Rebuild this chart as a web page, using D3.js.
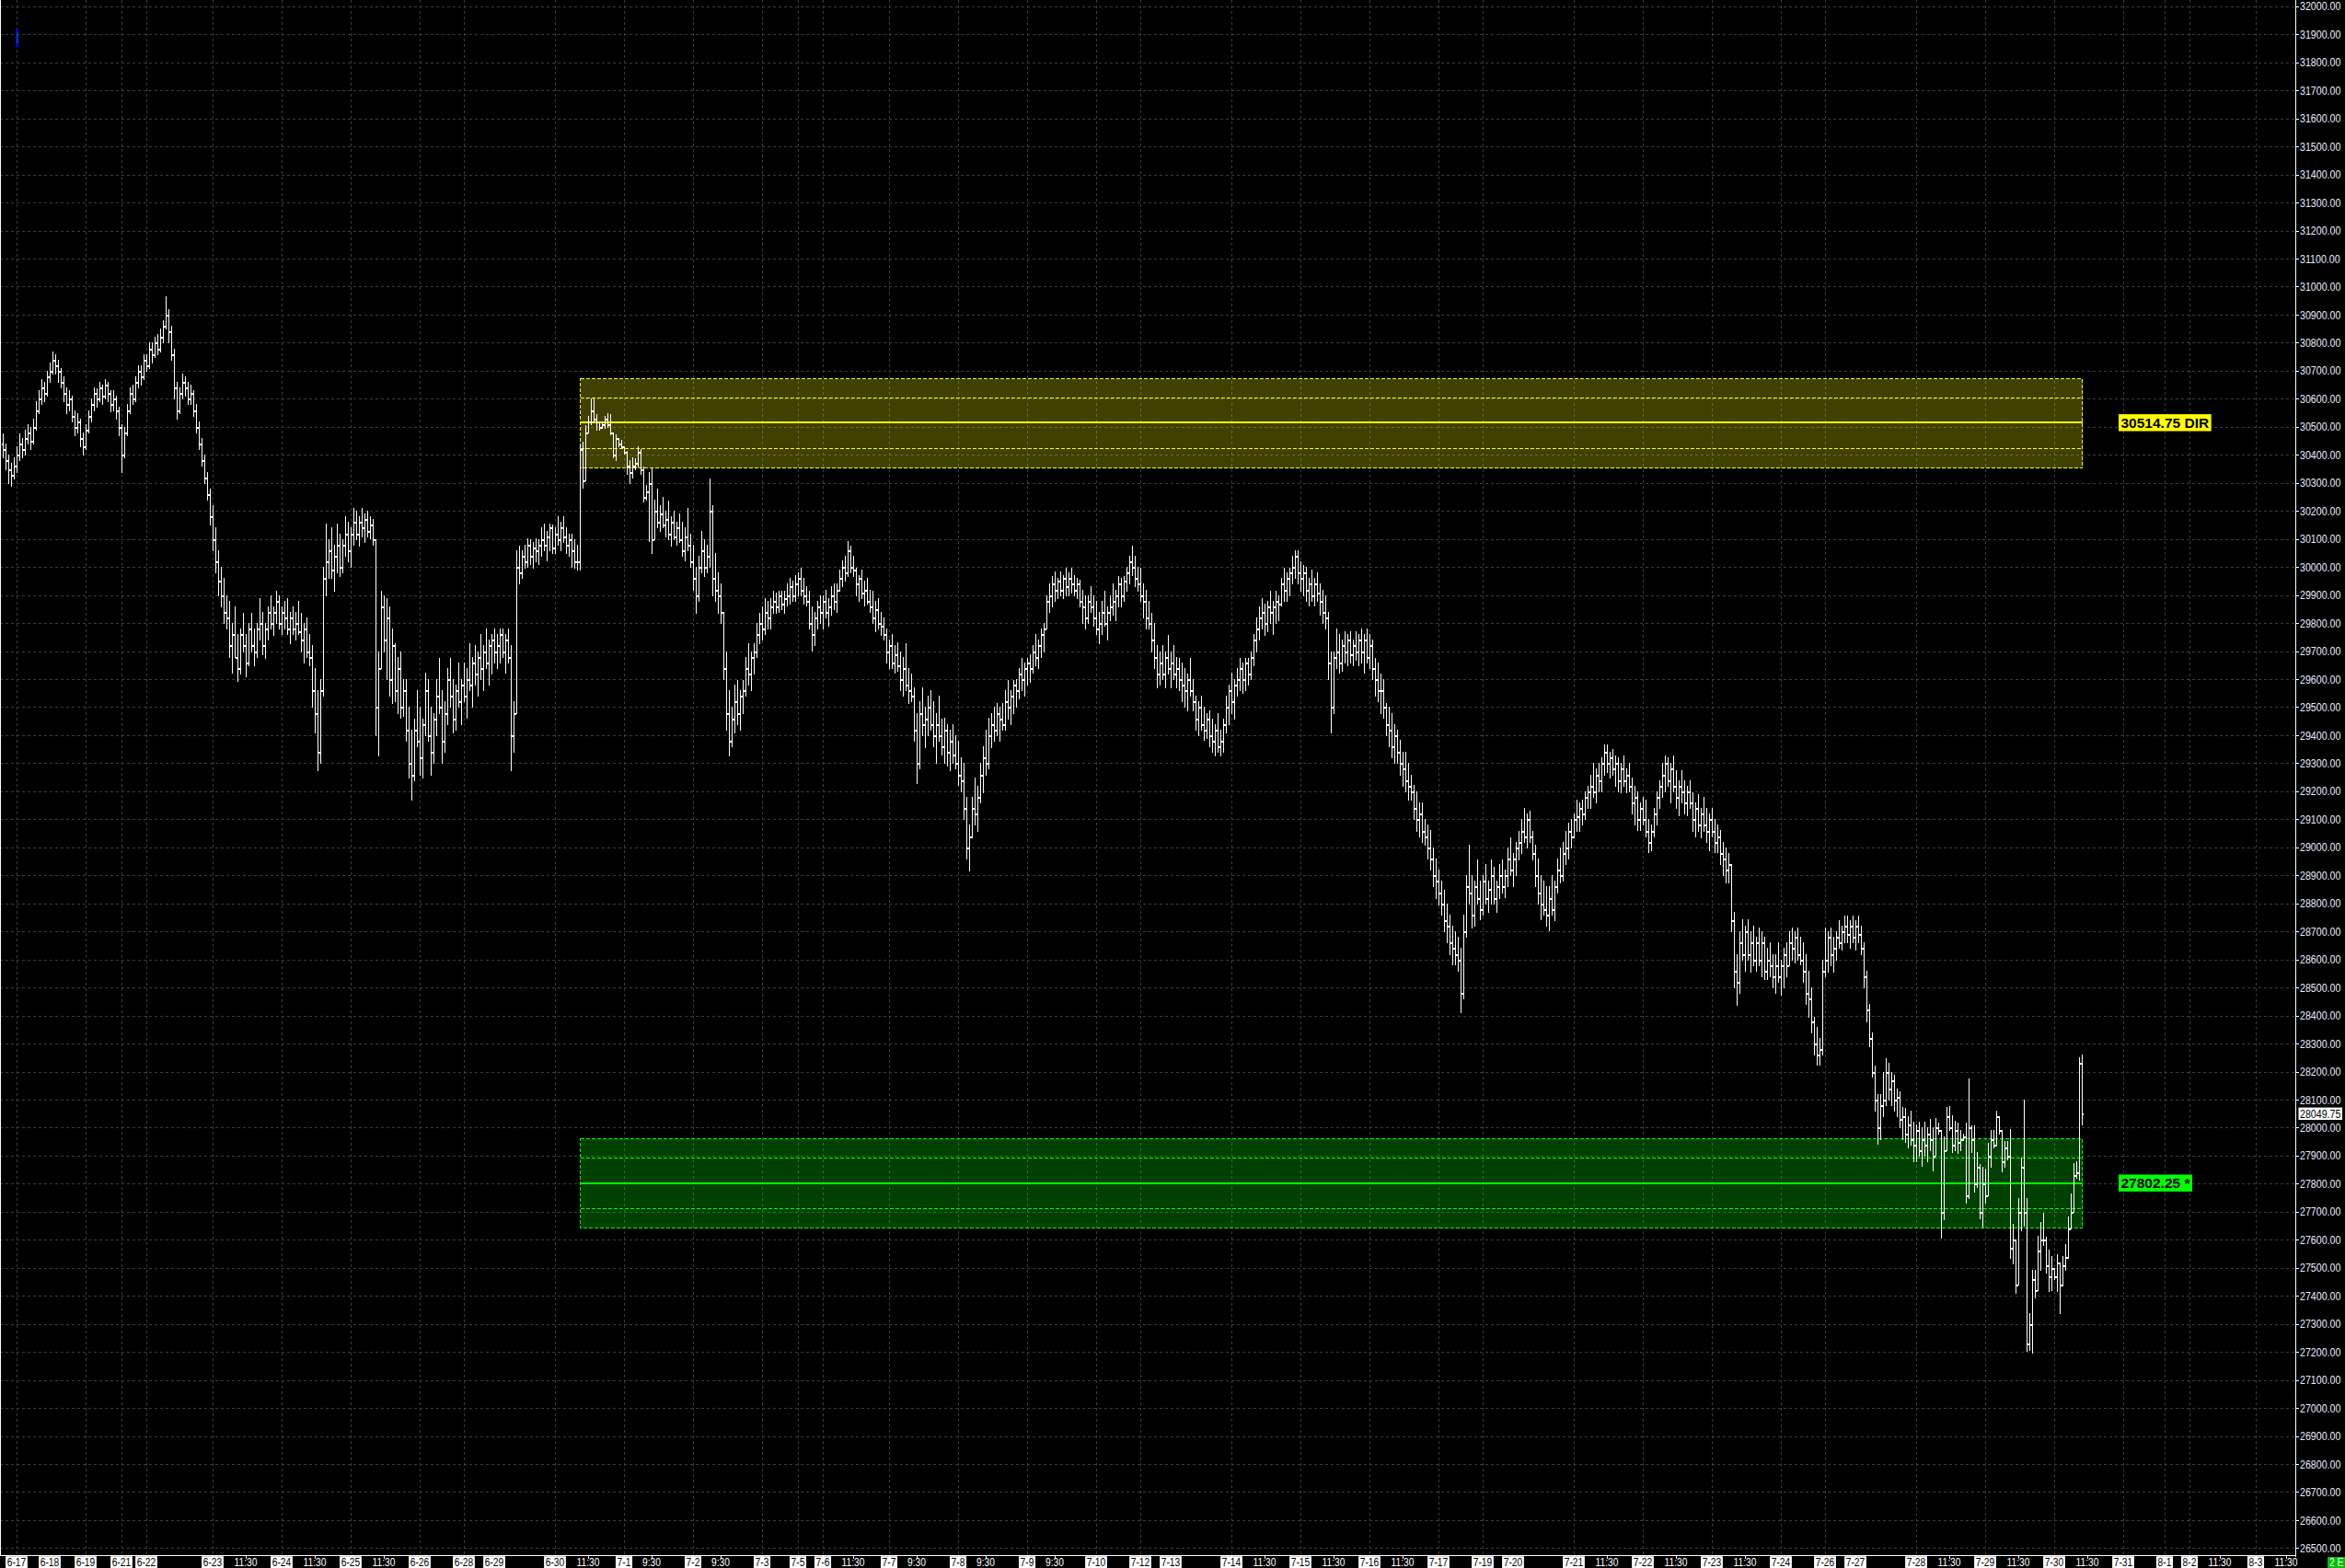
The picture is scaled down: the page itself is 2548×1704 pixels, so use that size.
<!DOCTYPE html>
<html><head><meta charset="utf-8">
<script src="https://cdn.jsdelivr.net/npm/d3@7"></script>
<style>html,body{margin:0;padding:0;background:#000;overflow:hidden}</style>
</head><body>
<script>
// ---------- DATA ----------
const firstOpen = 30440;
const closes = [
30420,30380,30350,30330,30360,30400,30440,30420,30460,30480,
30450,30500,30560,30600,30640,30620,30680,30700,30740,30720,
30700,30660,30620,30580,30600,30540,30500,30520,30460,30430,
30490,30540,30580,30620,30600,30640,30610,30650,30620,30580,
30600,30560,30500,30400,30480,30560,30620,30600,30660,30700,
30680,30740,30720,30780,30760,30800,30780,30820,30860,30900,
30840,30760,30640,30560,30620,30660,30640,30600,30620,30560,
30500,30440,30380,30320,30260,30180,30100,30020,29950,29900,
29840,29820,29720,29760,29680,29640,29760,29720,29660,29780,
29720,29700,29780,29800,29720,29780,29840,29800,29840,29880,
29800,29840,29820,29780,29820,29780,29800,29770,29740,29780,
29700,29680,29560,29480,29340,29560,29960,30020,30060,29990,
30040,30080,30000,30080,30120,30060,30120,30160,30120,30160,
30140,30170,30130,30150,30100,29500,29640,29860,29740,29820,
29600,29720,29560,29640,29500,29560,29420,29300,29260,29420,
29380,29320,29440,29560,29400,29340,29460,29540,29500,29380,
29480,29600,29540,29460,29560,29520,29580,29540,29600,29580,
29660,29620,29680,29640,29700,29660,29720,29740,29700,29720,
29760,29700,29740,29680,29400,29480,30000,29980,30040,30020,
30080,30040,30070,30060,30080,30100,30080,30110,30140,30070,
30120,30100,30140,30110,30080,30100,30060,30020,30020,30420,
30310,30480,30520,30560,30530,30520,30500,30510,30530,30510,
30480,30400,30460,30440,30430,30410,30360,30340,30360,30370,
30410,30350,30250,30270,30300,30100,30200,30160,30190,30150,
30170,30120,30160,30110,30140,30100,30060,30110,30080,30020,
29960,29900,30000,30060,30000,30040,30200,29960,29920,29900,
29840,29640,29480,29380,29460,29520,29480,29540,29560,29640,
29620,29680,29700,29760,29800,29780,29840,29820,29860,29880,
29860,29900,29870,29890,29900,29930,29900,29940,29960,29920,
29900,29880,29800,29760,29820,29860,29840,29880,29840,29860,
29900,29880,29920,29960,30000,29980,30060,30000,29990,29940,
29960,29910,29920,29880,29860,29820,29850,29800,29790,29760,
29700,29720,29660,29690,29650,29600,29640,29580,29560,29540,
29420,29300,29480,29440,29460,29500,29440,29400,29440,29400,
29360,29420,29340,29380,29330,29300,29260,29240,29140,29000,
29040,29140,29120,29180,29260,29320,29300,29400,29440,29420,
29480,29460,29440,29520,29500,29540,29580,29560,29620,29600,
29640,29660,29640,29700,29680,29720,29760,29780,29880,29900,
29940,29920,29950,29920,29960,29930,29960,29940,29920,29940,
29880,29860,29820,29880,29860,29820,29780,29800,29840,29800,
29840,29860,29880,29900,29940,29900,29950,29980,30020,30000,
29960,29940,29900,29880,29820,29800,29740,29680,29620,29660,
29620,29680,29640,29660,29620,29640,29600,29580,29560,29600,
29560,29520,29460,29500,29440,29420,29460,29400,29380,29420,
29360,29380,29440,29500,29560,29520,29580,29600,29640,29600,
29660,29620,29680,29740,29780,29820,29840,29800,29860,29840,
29860,29880,29870,29940,29920,29960,29980,30000,30040,29980,
29960,29980,29920,29940,29900,29940,29910,29880,29840,29820,
29660,29500,29680,29700,29660,29720,29700,29740,29690,29720,
29700,29740,29700,29740,29680,29720,29640,29600,29560,29560,
29500,29440,29420,29360,29400,29340,29300,29280,29240,29220,
29200,29140,29100,29120,29060,29040,29000,28960,28900,28880,
28840,28800,28740,28720,28660,28640,28620,28600,28480,28700,
28860,28840,28760,28860,28820,28780,28880,28820,28850,28900,
28820,28860,28900,28860,28900,28960,28920,28960,29000,29020,
29060,29040,29100,29040,28980,28900,28840,28800,28780,28760,
28820,28780,28860,28920,28900,28980,29000,29060,29040,29100,
29110,29140,29120,29180,29200,29220,29200,29260,29240,29300,
29340,29300,29320,29280,29300,29240,29280,29240,29260,29220,
29160,29180,29100,29140,29100,29060,29020,29060,29120,29180,
29220,29260,29300,29240,29280,29220,29180,29220,29200,29160,
29200,29160,29100,29140,29080,29120,29080,29060,29100,29060,
29020,29040,28980,28960,28920,28940,28740,28560,28520,28660,
28620,28700,28620,28660,28600,28660,28600,28660,28560,28600,
28580,28540,28580,28540,28580,28620,28580,28660,28640,28680,
28620,28600,28560,28480,28460,28380,28300,28260,28280,28560,
28600,28680,28620,28640,28680,28660,28700,28720,28690,28720,
28680,28720,28690,28640,28540,28420,28320,28200,28100,28000,
28080,28100,28200,28140,28170,28100,28110,28030,28040,27980,
28010,27960,27940,27990,27920,27960,27940,27980,27960,27900,
28000,27990,27700,27920,28040,28000,27940,27990,27950,27960,
27970,27760,28000,27960,27800,27860,27700,27800,27760,27900,
27960,27940,28040,27990,27880,27930,27900,27570,27600,27440,
27700,27860,27700,27230,27300,27460,27420,27560,27600,27600,
27510,27470,27500,27470,27520,27440,27510,27540,27640,27700,
27830,27840,28230,28049.75];
const highs = [
30476,30440,30400,30370,30390,30430,30476,30460,30490,30510,
30500,30530,30590,30630,30670,30660,30700,30730,30769,30760,
30740,30710,30680,30640,30630,30610,30560,30550,30530,30480,
30510,30560,30600,30640,30636,30660,30650,30670,30660,30630,
30630,30610,30570,30510,30500,30580,30640,30650,30680,30720,
30720,30760,30760,30800,30800,30820,30830,30850,30880,30966,
30920,30860,30780,30660,30640,30690,30680,30660,30650,30630,
30580,30520,30460,30400,30340,30280,30220,30140,30060,30000,
29960,29900,29880,29800,29860,29760,29780,29836,29760,29800,
29836,29780,29800,29889,29840,29800,29860,29900,29860,29916,
29900,29860,29880,29889,29840,29860,29840,29880,29836,29800,
29820,29760,29720,29640,29560,29600,30000,30156,30100,30140,
30080,30156,30120,30100,30182,30160,30140,30209,30200,30180,
30209,30190,30200,30182,30170,30100,29700,29916,29900,29889,
29860,29780,29729,29680,29700,29600,29600,29500,29420,29460,
29560,29500,29460,29622,29600,29500,29480,29600,29676,29560,
29520,29640,29676,29600,29580,29660,29600,29660,29640,29729,
29680,29720,29700,29760,29720,29782,29740,29760,29782,29760,
29782,29782,29760,29782,29720,29520,30060,30075,30060,30080,
30102,30100,30090,30102,30100,30140,30156,30130,30156,30150,
30140,30182,30160,30182,30140,30120,30120,30100,30080,30441,
30447,30507,30540,30601,30601,30544,30515,30520,30540,30550,
30545,30469,30474,30457,30452,30425,30414,30381,30392,30387,
30430,30420,30358,30294,30338,30354,30240,30280,30220,30250,
30200,30236,30180,30200,30160,30190,30160,30140,30209,30120,
30080,30000,30040,30129,30100,30080,30316,30220,30049,29980,
29940,29836,29700,29560,29500,29580,29596,29560,29596,29680,
29729,29700,29729,29800,29836,29860,29889,29880,29889,29916,
29910,29916,29916,29916,29942,29960,29950,29970,29980,29996,
29960,29930,29916,29860,29840,29880,29900,29900,29920,29890,
29930,29942,29940,29990,30022,30040,30092,30075,30040,29996,
29970,29990,29950,29960,29920,29916,29880,29890,29840,29820,
29782,29740,29760,29720,29730,29700,29680,29729,29640,29620,
29569,29480,29520,29569,29500,29540,29560,29520,29480,29540,
29460,29462,29440,29420,29440,29400,29380,29320,29300,29180,
29080,29180,29249,29220,29300,29360,29420,29462,29480,29500,
29516,29500,29516,29560,29596,29560,29596,29600,29640,29676,
29660,29676,29690,29720,29760,29740,29782,29800,29900,29940,
29969,29985,29960,29985,29970,29996,29980,29996,29970,29960,
29953,29920,29900,29900,29930,29900,29880,29840,29880,29916,
29860,29900,29940,29920,29969,29960,29969,30000,30040,30075,
30040,30000,29996,29940,29920,29880,29836,29800,29720,29700,
29720,29700,29756,29700,29720,29680,29676,29660,29640,29620,
29676,29600,29542,29520,29542,29500,29480,29489,29460,29440,
29480,29420,29460,29540,29580,29622,29600,29640,29676,29660,
29676,29676,29700,29760,29820,29860,29889,29870,29880,29916,
29880,29916,29900,29960,29996,29980,29996,30040,30060,30060,
30020,30006,30000,29960,29990,29960,29980,29942,29920,29900,
29840,29700,29700,29782,29760,29740,29772,29760,29772,29740,
29772,29760,29782,29760,29782,29760,29740,29676,29660,29620,
29600,29516,29500,29480,29440,29420,29382,29340,29340,29300,
29260,29222,29200,29160,29160,29100,29080,29062,29000,28960,
28920,28880,28849,28800,28760,28720,28700,28680,28640,28760,
28900,29009,28900,28880,28955,28880,28900,28940,28880,28955,
28930,28880,28940,28955,28920,29000,29036,28980,29020,29060,
29100,29142,29120,29130,29060,29009,28960,28900,28880,28860,
28860,28902,28880,28960,29000,29020,29060,29089,29100,29120,
29169,29160,29169,29200,29220,29260,29302,29280,29302,29320,
29366,29366,29340,29350,29329,29320,29300,29329,29280,29300,
29249,29220,29200,29160,29180,29169,29100,29080,29140,29200,
29240,29300,29329,29320,29300,29329,29276,29240,29276,29240,
29220,29240,29196,29160,29190,29140,29180,29142,29120,29142,
29100,29080,29062,29020,29000,28980,28930,28769,28620,28700,
28742,28720,28742,28700,28720,28680,28715,28700,28680,28640,
28660,28620,28620,28662,28600,28640,28662,28700,28715,28700,
28715,28680,28662,28620,28560,28500,28395,28360,28320,28600,
28715,28700,28715,28680,28700,28740,28720,28758,28758,28740,
28758,28740,28758,28720,28662,28560,28440,28340,28220,28120,
28120,28200,28246,28230,28200,28190,28140,28130,28075,28070,
28040,28060,28022,28010,28020,28000,28022,28000,28030,28001,
28034,28018,27990,27968,28072,28078,28045,28023,28018,27990,
27979,28018,28176,28007,28007,27914,27870,27859,27853,27947,
27990,27990,28061,28029,27963,27952,27952,27996,27657,27596,
27750,27892,28100,27750,27339,27492,27492,27613,27662,27695,
27610,27564,27542,27500,27547,27514,27542,27585,27684,27766,
27875,27881,28250,28260];
const lows = [
30390,30350,30300,30289,30315,30340,30380,30390,30400,30440,
30420,30440,30490,30550,30580,30590,30610,30660,30690,30690,
30660,30640,30590,30550,30560,30520,30470,30480,30430,30400,
30420,30480,30520,30560,30570,30590,30580,30600,30590,30555,
30560,30530,30470,30340,30390,30470,30550,30580,30590,30640,
30650,30670,30700,30710,30730,30750,30760,30770,30800,30850,
30800,30740,30600,30530,30550,30600,30610,30580,30580,30540,
30480,30420,30360,30300,30240,30150,30060,29980,29900,29860,
29800,29782,29680,29622,29700,29595,29620,29700,29610,29650,
29700,29649,29680,29740,29690,29676,29740,29780,29756,29800,
29780,29760,29780,29760,29729,29760,29740,29760,29700,29660,
29680,29649,29500,29409,29276,29300,29540,29900,29960,29960,
29916,29980,29969,29980,30040,30020,30000,30080,30100,30075,
30110,30090,30110,30102,30080,29400,29329,29640,29700,29600,
29540,29516,29520,29480,29462,29470,29380,29250,29169,29240,
29360,29260,29249,29400,29380,29260,29300,29400,29480,29302,
29340,29440,29500,29409,29420,29500,29440,29520,29462,29560,
29500,29580,29540,29600,29560,29640,29580,29620,29660,29640,
29660,29680,29622,29660,29276,29340,29480,29942,29960,29996,
30000,30010,29996,30020,30010,30040,30060,30022,30060,30050,
30049,30080,30060,30090,30049,30040,30000,29996,29990,29990,
30283,30392,30502,30510,30520,30490,30490,30495,30495,30500,
30474,30390,30381,30430,30425,30403,30331,30299,30320,30349,
30358,30331,30233,30240,30092,30050,30100,30140,30129,30140,
30110,30100,30075,30100,30080,30090,30040,30022,30060,30000,
29920,29836,29880,29980,29969,29980,30000,29900,29880,29836,
29800,29600,29420,29329,29360,29409,29440,29420,29480,29542,
29580,29560,29620,29680,29729,29740,29760,29780,29780,29836,
29836,29840,29850,29836,29862,29870,29880,29880,29900,29900,
29870,29862,29780,29702,29720,29780,29800,29782,29820,29790,
29830,29850,29840,29916,29930,29950,29969,29980,29969,29900,
29880,29890,29862,29870,29840,29800,29770,29780,29756,29740,
29660,29640,29640,29622,29630,29560,29540,29560,29516,29520,
29380,29230,29280,29400,29356,29400,29420,29360,29302,29380,
29330,29300,29290,29276,29300,29280,29222,29200,29100,28960,
28918,29036,29080,29060,29160,29196,29260,29280,29356,29380,
29400,29380,29420,29420,29460,29440,29480,29500,29530,29560,
29540,29580,29590,29622,29650,29640,29680,29700,29782,29840,
29860,29880,29889,29900,29889,29900,29900,29910,29900,29890,
29860,29800,29782,29800,29840,29790,29760,29729,29760,29790,
29740,29809,29830,29809,29860,29860,29880,29916,29940,29970,
29930,29916,29880,29820,29782,29782,29700,29640,29569,29580,
29600,29569,29620,29569,29600,29569,29560,29520,29500,29489,
29540,29489,29420,29400,29420,29382,29390,29360,29340,29329,
29340,29329,29340,29409,29440,29480,29460,29542,29560,29550,
29560,29580,29600,29649,29700,29740,29780,29756,29770,29800,
29760,29800,29810,29862,29880,29880,29900,29940,29960,29940,
29916,29900,29880,29862,29880,29862,29880,29830,29800,29782,
29600,29409,29480,29640,29622,29630,29660,29649,29660,29649,
29670,29649,29660,29622,29660,29640,29600,29540,29520,29480,
29462,29400,29360,29320,29302,29302,29260,29220,29200,29169,
29169,29100,29060,29040,29020,29009,28960,28920,28860,28820,
28795,28760,28700,28660,28620,28582,28582,28560,28411,28460,
28680,28800,28715,28720,28800,28742,28760,28800,28769,28800,
28800,28769,28820,28840,28822,28860,28900,28860,28900,28955,
28980,29020,29000,29020,28955,28860,28800,28742,28760,28720,
28704,28760,28740,28840,28875,28880,28940,28960,29000,29036,
29060,29060,29080,29100,29142,29140,29180,29160,29200,29200,
29260,29270,29249,29260,29220,29200,29196,29220,29196,29200,
29120,29080,29062,29062,29080,29040,28982,28990,29040,29080,
29142,29180,29200,29220,29160,29200,29142,29115,29160,29120,
29115,29140,29060,29040,29060,29036,29060,29020,28990,29040,
28982,28982,28940,28900,28875,28875,28700,28500,28438,28480,
28600,28560,28600,28555,28580,28560,28580,28540,28529,28530,
28540,28500,28480,28520,28475,28500,28540,28582,28600,28590,
28600,28582,28520,28440,28395,28340,28260,28225,28225,28260,
28540,28555,28580,28555,28600,28640,28635,28660,28660,28640,
28660,28635,28660,28620,28500,28380,28289,28182,28060,27942,
27960,28040,28080,28100,28080,28060,28040,28000,27960,27950,
27930,27940,27880,27880,27900,27862,27900,27880,27920,27848,
27963,27979,27607,27673,27919,27990,27914,27919,27908,27919,
27957,27733,27750,27914,27771,27788,27678,27646,27733,27821,
27859,27930,27936,27979,27843,27859,27886,27536,27514,27410,
27487,27635,27651,27203,27208,27197,27394,27481,27492,27580,
27482,27416,27421,27460,27416,27339,27438,27492,27536,27678,
27711,27821,27815,28012];

// x-axis tick labels and the bar slot they sit on
const xTickLabels = ["6-17","6-18","6-19","6-21","6-22","6-23","11:30","6-24","11:30","6-25","11:30","6-26","6-28","6-29","6-30","11:30","7-1","9:30","7-2","9:30","7-3","7-5","7-6","11:30","7-7","9:30","7-8","9:30","7-9","9:30","7-10","7-12","7-13","7-14","11:30","7-15","11:30","7-16","11:30","7-17","7-19","7-20","7-21","11:30","7-22","11:30","7-23","11:30","7-24","7-26","7-27","7-28","11:30","7-29","11:30","7-30","11:30","7-31","8-1","8-2","11:30","8-3","11:30"];
const xTickSlots  = [5,17,30,43,52,76,88,101,113,126,138,151,167,178,200,212,225,235,250,260,275,288,297,308,321,331,346,356,371,381,396,412,423,445,457,470,482,495,507,520,536,547,569,581,594,606,619,631,644,660,671,693,705,718,730,743,755,768,783,792,803,816,827];
const xNoGrid = ["6-18","6-29","7-13","7-20","7-27"];

// price zones
const zoneCenters = [30514.75, 27802.25];
const zoneLabels  = ["30514.75 DIR", "27802.25 *"];
const zoneStartSlot = 209;
const zoneInner = 90, zoneOuter = 160;
const lastPrice = 28049.75;
const markerSlot = 5, markerRange = [31917, 31855];

// ---------- CHART ----------
const W = 2548, H = 1704, AXR = 2494, AXB = 1690;
const FONT = "'Liberation Sans', Arial, sans-serif";
const n = Math.min(closes.length, highs.length, lows.length);
const opens = closes.slice(0, n).map((c, i) => i === 0 ? firstOpen : closes[i - 1]);

const svg = d3.select("body").append("svg").attr("width", W).attr("height", H)
  .style("background", "#000").style("display", "block");
svg.append("rect").attr("width", W).attr("height", H).attr("fill", "#000");

const x = d3.scaleLinear().domain([0, 830]).range([3, 2493]);
const y = d3.scaleLinear().domain([26500, 32000]).range([1682.4, 6.85]);
const px = v => Math.round(x(v)) + 0.5;
const py = v => Math.round(y(v)) + 0.5;

svg.append("clipPath").attr("id", "plot").append("rect")
  .attr("x", 0).attr("y", 0).attr("width", AXR).attr("height", AXB);
const plot = svg.append("g").attr("clip-path", "url(#plot)");

// grid
const yTicks = y.ticks(55);
plot.append("g").selectAll("line").data(yTicks).join("line")
  .attr("x1", 0).attr("x2", AXR).attr("y1", d => py(d)).attr("y2", d => py(d))
  .attr("stroke", "#3c3c3c").attr("stroke-dasharray", "3,3").attr("shape-rendering", "crispEdges");
const gridSlots = xTickSlots.filter((s, i) => xTickLabels[i].includes("-") && !xNoGrid.includes(xTickLabels[i]));
plot.append("g").selectAll("line").data(gridSlots).join("line")
  .attr("y1", 0).attr("y2", AXB).attr("x1", d => px(d)).attr("x2", d => px(d))
  .attr("stroke", "#3c3c3c").attr("stroke-dasharray", "3,3").attr("shape-rendering", "crispEdges");

// zones
const zoneColors = ["#ffff00", "#00ff00"];
zoneCenters.forEach((c, k) => {
  const col = zoneColors[k];
  const x0 = px(zoneStartSlot), x1 = px(n - 1);
  const g = plot.append("g");
  g.append("rect").attr("x", x0).attr("y", py(c + zoneOuter)).attr("width", x1 - x0)
    .attr("height", py(c - zoneOuter) - py(c + zoneOuter))
    .attr("fill", col).attr("fill-opacity", 0.25)
    .attr("stroke", col).attr("stroke-dasharray", "4,2").attr("shape-rendering", "crispEdges");
  [c + zoneInner, c - zoneInner].forEach(v => {
    g.append("line").attr("x1", x0).attr("x2", x1).attr("y1", py(v)).attr("y2", py(v))
      .attr("stroke", col).attr("stroke-dasharray", "4,2").attr("shape-rendering", "crispEdges");
  });
  g.append("line").attr("x1", x0).attr("x2", x1).attr("y1", Math.round(y(c))).attr("y2", Math.round(y(c)))
    .attr("stroke", col).attr("stroke-width", 2).attr("shape-rendering", "crispEdges");
});

// OHLC bars: vertical hi-lo line, 1px open tick on the left, 1px close tick on the right
let dPath = "", tPath = "";
for (let i = 0; i < n; i++) {
  const xi = Math.round(x(i));
  const hi = Math.max(highs[i], opens[i], closes[i]);
  const lo = Math.min(lows[i], opens[i], closes[i]);
  dPath += `M${xi + 0.5},${Math.round(y(hi))}V${Math.round(y(lo)) + 1}`;
  const yo = Math.round(y(opens[i])), yc = Math.round(y(closes[i]));
  tPath += `M${xi - 1},${yo}h1v2h-1zM${xi + 1},${yc}h1v2h-1z`;
}
plot.append("path").attr("d", dPath).attr("stroke", "#fff").attr("stroke-width", 1)
  .attr("fill", "none").attr("shape-rendering", "crispEdges");
plot.append("path").attr("d", tPath).attr("fill", "#fff").attr("stroke", "none")
  .attr("shape-rendering", "crispEdges");

// marker at top-left
plot.append("rect").attr("x", Math.round(x(markerSlot)) - 1).attr("y", y(markerRange[0]))
  .attr("width", 3).attr("height", y(markerRange[1]) - y(markerRange[0])).attr("fill", "#0000ff");
plot.append("line").attr("x1", Math.round(x(markerSlot)) + 1).attr("x2", Math.round(x(markerSlot)) + 1)
  .attr("y1", y(markerRange[0]) + 3).attr("y2", y(markerRange[1]) - 4).attr("stroke", "#00a000").attr("stroke-width", 0.8);

// condensed text helper
function ctext(parent, str, tx, ty, opts) {
  const sx = opts.sx || 0.82;
  const g = parent.append("g").attr("transform", `translate(${tx},${ty}) scale(${sx},1)`);
  const t = g.append("text").text(str).attr("text-anchor", opts.anchor || "start")
    .attr("fill", opts.fill || "#fff").attr("font-size", opts.size || 13)
    .attr("font-family", FONT).attr("font-weight", opts.bold ? "bold" : "normal");
  const w = t.node().getComputedTextLength();
  return { g, t, w, sw: w * sx };
}

// axes lines
svg.append("line").attr("x1", 0.5).attr("x2", 0.5).attr("y1", 0).attr("y2", AXB).attr("stroke", "#fff");
svg.append("line").attr("x1", AXR + 0.5).attr("x2", AXR + 0.5).attr("y1", 0).attr("y2", AXB + 2).attr("stroke", "#fff");
svg.append("line").attr("x1", 0).attr("x2", AXR + 1).attr("y1", AXB + 0.5).attr("y2", AXB + 0.5).attr("stroke", "#fff");

// right axis
const ra = svg.append("g");
yTicks.forEach(v => {
  ra.append("line").attr("x1", AXR).attr("x2", AXR + 4).attr("y1", py(v)).attr("y2", py(v))
    .attr("stroke", "#fff").attr("shape-rendering", "crispEdges");
  ctext(ra, d3.format(".2f")(v), AXR + 5, y(v) + 4.6, { fill: "#e6ecff" });
});
{
  const yl = y(lastPrice);
  ra.append("rect").attr("x", AXR + 3.5).attr("y", yl - 6.7).attr("width", 47.5).attr("height", 13.4).attr("fill", "#fff");
  ctext(ra, d3.format(".2f")(lastPrice), AXR + 5, yl + 4.6, { fill: "#000" });
}

// bottom axis
const ba = svg.append("g");
xTickLabels.forEach((lab, i) => {
  const xs = px(xTickSlots[i]);
  ba.append("line").attr("x1", xs).attr("x2", xs).attr("y1", AXB).attr("y2", AXB + 4).attr("stroke", "#fff");
});
xTickLabels.forEach((lab, i) => {
  const xs = Math.max(x(xTickSlots[i]), 13);
  const isDate = lab.includes("-");
  const c = ctext(ba, lab, xs, 1702, { anchor: "middle", fill: isDate ? "#000" : "#fff", size: 12.5 });
  if (isDate) {
    c.g.insert("rect", "text").attr("x", -c.w / 2 - 2).attr("y", -10.8).attr("width", c.w + 4)
      .attr("height", 12.8).attr("fill", "#fff");
  }
});
svg.append("rect").attr("x", 2529).attr("y", 1692).attr("width", 19).attr("height", 12).attr("fill", "#00c000");
ctext(svg, "2 E", 2531, 1702, { fill: "#fff", size: 12.5 });

// zone labels
zoneCenters.forEach((c, k) => {
  const lx = Math.round(x(n - 1)) + 40, ly = y(c);
  const g = svg.append("g");
  const t = g.append("text").text(zoneLabels[k]).attr("x", lx + 2.5).attr("y", ly + 5.6)
    .attr("font-family", FONT).attr("font-weight", "bold").attr("font-size", 15.5).attr("fill", "#000");
  const w = t.node().getComputedTextLength();
  g.insert("rect", "text").attr("x", lx).attr("y", ly - 9.2).attr("width", w + 5).attr("height", 18.4)
    .attr("fill", zoneColors[k]);
});
</script>
</body></html>
